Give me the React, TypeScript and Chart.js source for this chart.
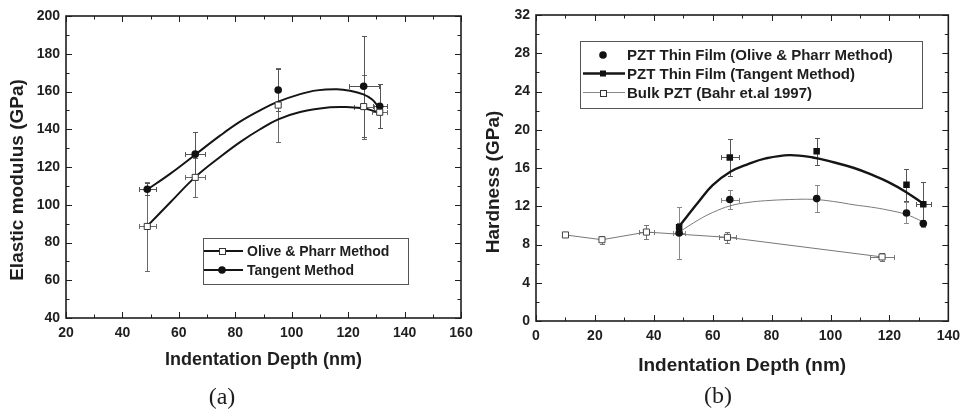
import React, { useEffect, useRef } from "react";
import { Chart, registerables } from "chart.js";

Chart.register(...registerables);

// ---------------- Panel (a): Elastic modulus ----------------
const depthA = [48.8, 65.8, 95.2, 125.5, 131.2];
const modulusOP = [88.5, 114.5, 152.8, 152.0, 149.0];
const modulusOPErrY = [23.5, 10.5, 19.4, 17.0, 1.0];
const modulusOPErrX = [3.0, 3.6, 0, 3.5, 2.6];
const modulusTan = [108.2, 126.8, 160.8, 162.8, 152.2];
const modulusTanErrY = [3.2, 11.6, 11.0, 26.8, 11.7];
const modulusTanErrX = [3.0, 3.6, 0, 5.3, 2.4];
// fitted curves
const fitTanAX = [48.6, 57, 65.7, 74.6, 81.7, 88.8, 95.2, 103, 108.9, 116, 120.7, 125.4, 128.4, 130.7];
const fitTanAY = [107.8, 116.5, 126.4, 136.6, 144.0, 150.0, 154.6, 158.6, 160.6, 161.2, 160.4, 158.5, 155.9, 152.0];
const fitOPAX = [48.6, 57, 65.7, 74.6, 81.7, 88.8, 95.2, 103, 113.6, 120.7, 125.4, 130.1];
const fitOPAY = [88.4, 101.3, 114.5, 125.3, 133.2, 140.0, 145.2, 149.1, 151.6, 151.7, 151.1, 149.3];
const xRangeA = [20, 160];
const yRangeA = [40, 200];

// ---------------- Panel (b): Hardness ----------------
const depthB = [48.6, 65.8, 95.3, 125.8, 131.5];
const hardOP = [9.2, 12.7, 12.8, 11.3, 10.2];
const hardOPErrY = [2.7, 0.95, 1.4, 1.1, 0.4];
const hardOPErrX = [2.0, 3.1, 0, 0, 0];
const hardTan = [9.8, 17.1, 17.75, 14.25, 12.2];
const hardTanErrY = [0.5, 1.9, 1.4, 1.65, 2.3];
const hardTanErrX = [0, 3.1, 0, 0, 2.5];
const bulkDepth = [10.0, 22.4, 37.5, 65.0, 117.5];
const bulkHard = [9.0, 8.5, 9.3, 8.75, 6.7];
const bulkErrY = [0.2, 0.4, 0.7, 0.6, 0.4];
const bulkErrX = [1.0, 0, 2.5, 3.0, 4.0];
const fitTanBX = [48.6, 55.3, 60, 66, 72, 78, 86, 94, 101, 108, 114, 119.5, 125.6, 131.3];
const fitTanBY = [9.9, 12.5, 14.2, 15.6, 16.4, 17.0, 17.35, 17.1, 16.6, 16.0, 15.3, 14.55, 13.5, 12.3];
const fitOPBX = [48.6, 55.3, 60, 66, 72, 78, 86, 94, 101, 108, 114, 119.5, 125.6, 131.3];
const fitOPBY = [9.3, 10.6, 11.35, 12.05, 12.4, 12.58, 12.7, 12.72, 12.5, 12.15, 11.9, 11.6, 11.15, 10.4];
const xRangeB = [0, 140];
const yRangeB = [0, 32];

const FONT = "'Liberation Sans', Arial, Helvetica, sans-serif";
const INK = "#1e1e1e";

const pts = (xs: number[], ys: number[]) => xs.map((x, i) => ({ x, y: ys[i] }));

const errorBarPlugin = {
  id: "errorBars",
  beforeDatasetsDraw(chart: any) {
    const ctx = chart.ctx;
    const xs = chart.scales.x;
    const ys = chart.scales.y;
    const cap = 2.5;
    chart.data.datasets.forEach((ds: any) => {
      if (!ds.errY && !ds.errX) return;
      ctx.save();
      ctx.strokeStyle = ds.errColor || "#666";
      ctx.lineWidth = 1;
      ds.data.forEach((p: any, i: number) => {
        const px = Math.round(xs.getPixelForValue(p.x)) + 0.5;
        const py = Math.round(ys.getPixelForValue(p.y)) + 0.5;
        const ey = ds.errY ? ds.errY[i] : 0;
        const ex = ds.errX ? ds.errX[i] : 0;
        ctx.beginPath();
        if (ey > 0) {
          const y1 = Math.round(ys.getPixelForValue(p.y + ey)) + 0.5;
          const y2 = Math.round(ys.getPixelForValue(p.y - ey)) + 0.5;
          ctx.moveTo(px, y1); ctx.lineTo(px, y2);
          ctx.moveTo(px - cap, y1); ctx.lineTo(px + cap, y1);
          ctx.moveTo(px - cap, y2); ctx.lineTo(px + cap, y2);
        }
        if (ex > 0) {
          const x1 = Math.round(xs.getPixelForValue(p.x - ex)) + 0.5;
          const x2 = Math.round(xs.getPixelForValue(p.x + ex)) + 0.5;
          ctx.moveTo(x1, py); ctx.lineTo(x2, py);
          ctx.moveTo(x1, py - cap); ctx.lineTo(x1, py + cap);
          ctx.moveTo(x2, py - cap); ctx.lineTo(x2, py + cap);
        }
        ctx.stroke();
      });
      ctx.restore();
    });
  },
};

const framePlugin = {
  id: "frame",
  afterDatasetsDraw(chart: any, _a: any, opts: any) {
    const ctx = chart.ctx;
    const { left, right, top, bottom } = chart.chartArea;
    const xs = chart.scales.x;
    const ys = chart.scales.y;
    ctx.save();
    ctx.strokeStyle = INK;
    ctx.lineWidth = 1;
    const major = 6;
    const minor = 3.5;
    ctx.beginPath();
    const isMajor = (v: number, min: number, step: number) => {
      const r = Math.abs(((v - min) / step) - Math.round((v - min) / step));
      return r < 1e-6;
    };
    for (let v = xs.min; v <= xs.max + 1e-9; v += opts.xMinor) {
      const px = Math.round(xs.getPixelForValue(v)) + 0.5;
      const len = isMajor(v, xs.min, opts.xMajor) ? major : minor;
      ctx.moveTo(px, bottom); ctx.lineTo(px, bottom - len);
      ctx.moveTo(px, top); ctx.lineTo(px, top + len);
    }
    for (let v = ys.min; v <= ys.max + 1e-9; v += opts.yMinor) {
      const py = Math.round(ys.getPixelForValue(v)) + 0.5;
      const len = isMajor(v, ys.min, opts.yMajor) ? major : minor;
      ctx.moveTo(left, py); ctx.lineTo(left + len, py);
      ctx.moveTo(right, py); ctx.lineTo(right - len, py);
    }
    ctx.stroke();
    ctx.lineWidth = 1.6;
    ctx.strokeRect(left, top, right - left, bottom - top);
    ctx.restore();
  },
  afterDraw(chart: any, _a: any, opts: any) {
    const ctx = chart.ctx;
    // y-axis title
    ctx.save();
    ctx.fillStyle = INK;
    ctx.font = `bold ${opts.yTitleSize}px ${FONT}`;
    ctx.textAlign = "center";
    ctx.textBaseline = "middle";
    ctx.translate(opts.yTitleX, opts.yTitleY);
    ctx.rotate(-Math.PI / 2);
    ctx.fillText(opts.yTitle, 0, 0);
    ctx.restore();
    // legend
    const lg = opts.legend;
    if (!lg) return;
    ctx.save();
    ctx.strokeStyle = "#555";
    ctx.lineWidth = 1;
    ctx.strokeRect(lg.box[0] + 0.5, lg.box[1] + 0.5, lg.box[2] - lg.box[0], lg.box[3] - lg.box[1]);
    lg.items.forEach((it: any) => {
      if (it.lineWidth) {
        ctx.strokeStyle = it.lineColor;
        ctx.lineWidth = it.lineWidth;
        ctx.beginPath();
        ctx.moveTo(lg.lineX0, it.y);
        ctx.lineTo(lg.lineX1, it.y);
        ctx.stroke();
      }
      const mx = lg.markX;
      ctx.lineWidth = 1;
      if (it.marker === "circle") {
        ctx.fillStyle = "#111";
        ctx.beginPath();
        ctx.arc(mx, it.y, 3.8, 0, Math.PI * 2);
        ctx.fill();
      } else if (it.marker === "square") {
        ctx.fillStyle = "#111";
        ctx.fillRect(mx - 3, it.y - 3, 6, 6);
      } else if (it.marker === "open") {
        ctx.fillStyle = "#fff";
        ctx.strokeStyle = "#333";
        ctx.fillRect(mx - 3, it.y - 3, 6, 6);
        ctx.strokeRect(mx - 3 + 0.5, Math.round(it.y - 3) + 0.5, 6, 6);
      }
      ctx.fillStyle = INK;
      ctx.font = `bold ${lg.fontSize}px ${FONT}`;
      ctx.textAlign = "left";
      ctx.textBaseline = "middle";
      ctx.fillText(it.text, lg.textX, it.y + 1);
    });
    ctx.restore();
  },
};

function makeScales(xr: number[], yr: number[], xStep: number, yStep: number, yWidth: number, xHeight: number, xTitle: string, xTitleSize: number, xTitlePad: number, xTickPad: number) {
  const tickFont = { family: FONT, size: 14, weight: "bold" as const };
  return {
    x: {
      type: "linear" as const,
      min: xr[0],
      max: xr[1],
      grid: { display: false, drawTicks: false },
      border: { display: false },
      ticks: { stepSize: xStep, font: tickFont, color: INK, padding: xTickPad, autoSkip: false, maxRotation: 0 },
      title: { display: true, text: xTitle, color: INK, font: { family: FONT, size: xTitleSize, weight: "bold" as const }, padding: { top: 0, bottom: xTitlePad } },
      afterFit: (s: any) => { s.height = xHeight; },
    },
    y: {
      type: "linear" as const,
      min: yr[0],
      max: yr[1],
      grid: { display: false, drawTicks: false },
      border: { display: false },
      ticks: { stepSize: yStep, font: tickFont, color: INK, padding: 6, autoSkip: false },
      afterFit: (s: any) => { s.width = yWidth; },
    },
  };
}

const curveStyle = { pointRadius: 0, tension: 0.4 };

function configA(): any {
  return {
    type: "line",
    data: {
      datasets: [
        {
          label: "Olive & Pharr Method",
          data: pts(depthA, modulusOP),
          showLine: false,
          pointStyle: "rect",
          pointRadius: 4.3,
          pointBackgroundColor: "#fff",
          pointBorderColor: "#333",
          pointBorderWidth: 1,
          errY: modulusOPErrY,
          errX: modulusOPErrX,
          errColor: "#6a6a6a",
        },
        {
          label: "Tangent Method",
          data: pts(depthA, modulusTan),
          showLine: false,
          pointStyle: "circle",
          pointRadius: 3.8,
          pointBackgroundColor: "#111",
          pointBorderColor: "#111",
          pointBorderWidth: 0,
          errY: modulusTanErrY,
          errX: modulusTanErrX,
          errColor: "#555",
        },
        { label: "fitTan", data: pts(fitTanAX, fitTanAY), borderColor: "#151515", borderWidth: 2, ...curveStyle },
        { label: "fitOP", data: pts(fitOPAX, fitOPAY), borderColor: "#151515", borderWidth: 2, ...curveStyle },
      ],
    },
    options: {
      responsive: false,
      animation: false,
      devicePixelRatio: 1,
      layout: { padding: { top: 16, right: 19, left: 0, bottom: 0 } },
      scales: makeScales(xRangeA, yRangeA, 20, 20, 66, 94, "Indentation Depth (nm)", 18, 41, 7),
      plugins: {
        legend: { display: false },
        tooltip: { enabled: false },
        frame: {
          xMinor: 10, xMajor: 20, yMinor: 10, yMajor: 20,
          yTitle: "Elastic modulus (GPa)", yTitleX: 18, yTitleY: 180, yTitleSize: 19,
          legend: {
            box: [203, 238, 408, 284],
            lineX0: 204, lineX1: 243, markX: 222, textX: 247, fontSize: 14,
            items: [
              { text: "Olive & Pharr Method", y: 251, marker: "open", lineWidth: 2, lineColor: "#151515" },
              { text: "Tangent Method", y: 270, marker: "circle", lineWidth: 2, lineColor: "#151515" },
            ],
          },
        },
      },
    },
    plugins: [errorBarPlugin, framePlugin],
  };
}

function configB(): any {
  return {
    type: "line",
    data: {
      datasets: [
        {
          label: "PZT Thin Film (Olive & Pharr Method)",
          data: pts(depthB, hardOP),
          showLine: false,
          pointStyle: "circle",
          pointRadius: 3.8,
          pointBackgroundColor: "#111",
          pointBorderColor: "#111",
          pointBorderWidth: 0,
          errY: hardOPErrY,
          errX: hardOPErrX,
          errColor: "#888",
        },
        {
          label: "PZT Thin Film (Tangent Method)",
          data: pts(depthB, hardTan),
          showLine: false,
          pointStyle: "rect",
          pointRadius: 4.6,
          pointBackgroundColor: "#111",
          pointBorderColor: "#111",
          pointBorderWidth: 0,
          errY: hardTanErrY,
          errX: hardTanErrX,
          errColor: "#555",
        },
        {
          label: "Bulk PZT (Bahr et.al 1997)",
          data: pts(bulkDepth, bulkHard),
          showLine: true,
          borderColor: "#777",
          borderWidth: 1,
          tension: 0,
          pointStyle: "rect",
          pointRadius: 4.3,
          pointBackgroundColor: "#fff",
          pointBorderColor: "#444",
          pointBorderWidth: 1,
          errY: bulkErrY,
          errX: bulkErrX,
          errColor: "#777",
        },
        { label: "fitTan", data: pts(fitTanBX, fitTanBY), borderColor: "#151515", borderWidth: 2.4, ...curveStyle },
        { label: "fitOP", data: pts(fitOPBX, fitOPBY), borderColor: "#7a7a7a", borderWidth: 1, ...curveStyle },
      ],
    },
    options: {
      responsive: false,
      animation: false,
      devicePixelRatio: 1,
      layout: { padding: { top: 15, right: 16, left: 0, bottom: 0 } },
      scales: makeScales(xRangeB, yRangeB, 20, 4, 56, 91, "Indentation Depth (nm)", 19, 35, 7),
      plugins: {
        legend: { display: false },
        tooltip: { enabled: false },
        frame: {
          xMinor: 10, xMajor: 20, yMinor: 2, yMajor: 4,
          yTitle: "Hardness (GPa)", yTitleX: 14, yTitleY: 182, yTitleSize: 19,
          legend: {
            box: [100, 41, 442, 108],
            lineX0: 103, lineX1: 145, markX: 123, textX: 147, fontSize: 15,
            items: [
              { text: "PZT Thin Film (Olive & Pharr Method)", y: 55, marker: "circle", lineWidth: 0 },
              { text: "PZT Thin Film (Tangent Method)", y: 73.5, marker: "square", lineWidth: 2.4, lineColor: "#151515" },
              { text: "Bulk PZT (Bahr et.al 1997)", y: 92.5, marker: "open", lineWidth: 1, lineColor: "#888" },
            ],
          },
        },
      },
    },
    plugins: [errorBarPlugin, framePlugin],
  };
}

function Panel({ make, left, width }: { make: () => any; left: number; width: number }) {
  const ref = useRef<HTMLCanvasElement | null>(null);
  useEffect(() => {
    if (!ref.current) return;
    const chart = new Chart(ref.current, make());
    return () => chart.destroy();
  }, [make]);
  return (
    <canvas
      ref={ref}
      width={width}
      height={412}
      style={{ position: "absolute", left, top: 0, width, height: 412 }}
    />
  );
}

export default function App() {
  const caption: React.CSSProperties = {
    position: "absolute",
    width: 60,
    textAlign: "center",
    fontFamily: "'Liberation Serif', 'Times New Roman', serif",
    fontSize: 24,
    lineHeight: "24px",
    color: "#1e1e1e",
  };
  return (
    <div style={{ position: "fixed", left: 0, top: 0, width: 967, height: 412, background: "#fff", overflow: "hidden" }}>
      <Panel make={configA} left={0} width={480} />
      <Panel make={configB} left={480} width={487} />
      <div style={{ ...caption, left: 192, top: 384 }}>(a)</div>
      <div style={{ ...caption, left: 688, top: 383 }}>(b)</div>
    </div>
  );
}
